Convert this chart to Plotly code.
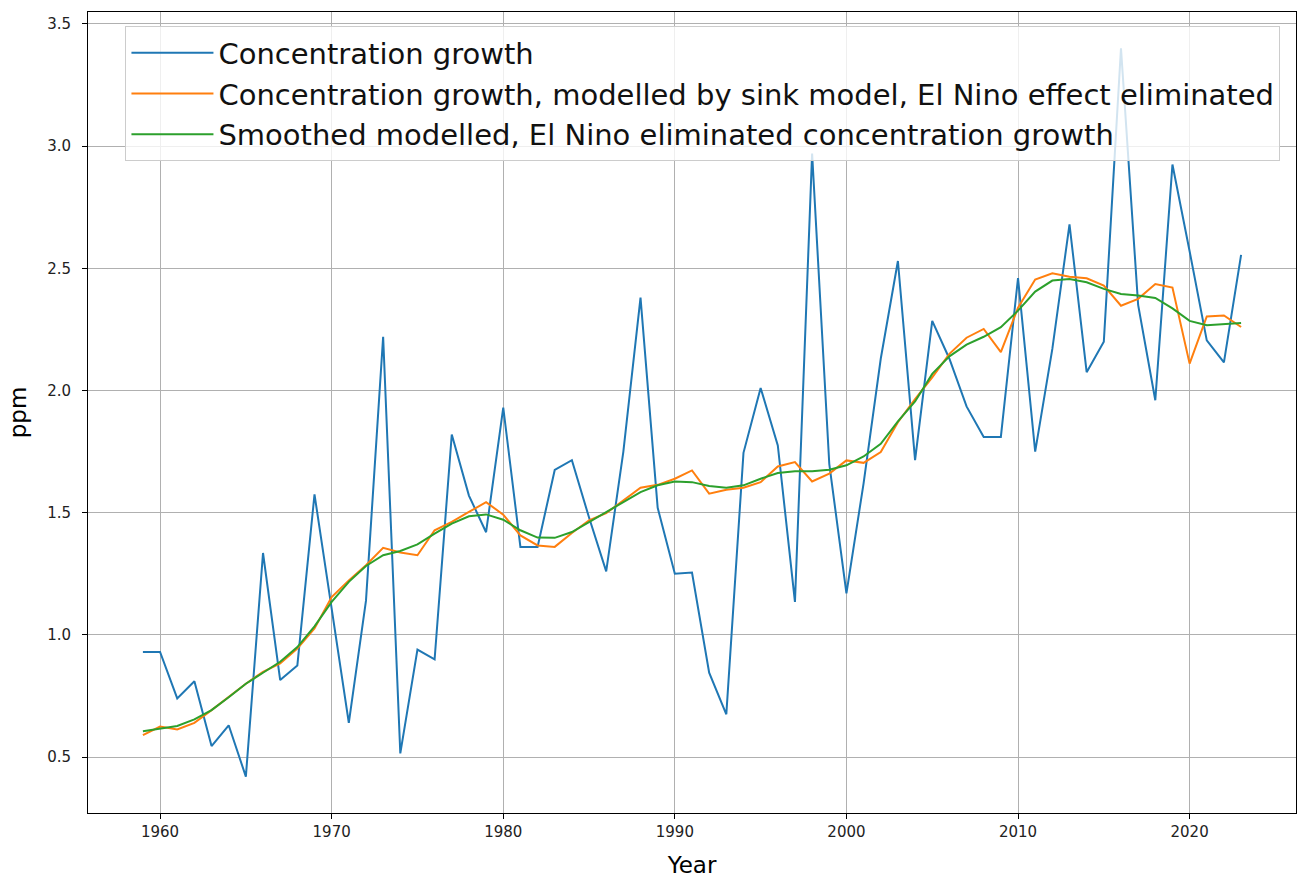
import plotly.graph_objects as go

years = list(range(1959, 2024))

growth = [0.93, 0.93, 0.74, 0.81, 0.545, 0.63, 0.42, 1.335, 0.815, 0.875,
          1.575, 1.10, 0.64, 1.14, 2.22, 0.515, 0.94, 0.90, 1.82, 1.57,
          1.42, 1.93, 1.36, 1.36, 1.675, 1.715, 1.48, 1.26, 1.75, 2.38,
          1.52, 1.25, 1.255, 0.845, 0.675, 1.745, 2.01, 1.775, 1.135, 2.97,
          1.70, 1.17, 1.62, 2.13, 2.53, 1.715, 2.285, 2.13, 1.935, 1.81,
          1.81, 2.46, 1.75, 2.17, 2.68, 2.075, 2.20, 3.40, 2.35, 1.96,
          2.925, 2.57, 2.205, 2.115, 2.555]

modelled = [0.59, 0.625, 0.613, 0.64, 0.692, 0.746, 0.80, 0.849, 0.883, 0.944,
            1.026, 1.155, 1.223, 1.285, 1.356, 1.337, 1.326, 1.428, 1.462, 1.503,
            1.543, 1.492, 1.407, 1.366, 1.36, 1.417, 1.469, 1.498, 1.55, 1.602,
            1.614, 1.639, 1.673, 1.578, 1.594, 1.602, 1.625, 1.689, 1.707, 1.628,
            1.66, 1.714, 1.704, 1.748, 1.87, 1.965, 2.054, 2.15, 2.216, 2.252,
            2.157, 2.339, 2.454, 2.48, 2.466, 2.459, 2.429, 2.347, 2.375, 2.436,
            2.421, 2.11, 2.303, 2.307, 2.26]

smoothed = [0.606, 0.617, 0.627, 0.654, 0.692, 0.745, 0.80, 0.845, 0.89, 0.95,
            1.035, 1.135, 1.217, 1.282, 1.326, 1.343, 1.37, 1.414, 1.455, 1.485,
            1.493, 1.471, 1.428, 1.398, 1.397, 1.421, 1.462, 1.503, 1.543, 1.584,
            1.612, 1.628, 1.625, 1.609, 1.602, 1.612, 1.639, 1.662, 1.67, 1.67,
            1.676, 1.694, 1.73, 1.782, 1.874, 1.955, 2.068, 2.14, 2.188, 2.22,
            2.259, 2.327, 2.405, 2.45, 2.456, 2.443, 2.416, 2.395, 2.389, 2.379,
            2.336, 2.285, 2.267, 2.272, 2.276]

names = ["Concentration growth",
         "Concentration growth, modelled by sink model, El Nino effect eliminated",
         "Smoothed modelled, El Nino eliminated concentration growth"]
colors = ["#1f77b4", "#ff7f0e", "#2ca02c"]

x_ticks = [1960, 1970, 1980, 1990, 2000, 2010, 2020]
y_ticks = [0.5, 1.0, 1.5, 2.0, 2.5, 3.0, 3.5]
y_tick_labels = ["0.5", "1.0", "1.5", "2.0", "2.5", "3.0", "3.5"]

FONT = "DejaVu Sans"

fig = go.Figure()
for series, name, color in zip([growth, modelled, smoothed], names, colors):
    fig.add_trace(go.Scatter(x=years, y=series, mode="lines", name=name,
                             line=dict(color=color, width=2)))

# matplotlib-like 5% margins
xspan = years[-1] - years[0]
allv = growth + modelled + smoothed
ymin, ymax = min(allv), max(allv)
yspan = ymax - ymin

axis_common = dict(showline=True, linecolor="black", linewidth=1, mirror=True,
                   ticks="outside", ticklen=5, tickcolor="black", tickwidth=1,
                   showgrid=True, gridcolor="#b0b0b0", gridwidth=1,
                   zeroline=False, tickfont=dict(family=FONT, size=15, color="#222"))

fig.update_layout(
    width=1298, height=879,
    margin=dict(l=88, r=2, t=12, b=66),
    paper_bgcolor="white", plot_bgcolor="white",
    font=dict(family=FONT, color="black"),
    showlegend=True,
    legend=dict(x=0.031, y=0.982, xanchor="left", yanchor="top",
                bgcolor="rgba(255,255,255,0.8)", bordercolor="#cccccc", borderwidth=1,
                font=dict(family=FONT, size=29, color="#111"),
                itemwidth=82, tracegroupgap=0),
    xaxis=dict(range=[years[0] - 0.05 * xspan, years[-1] + 0.05 * xspan],
               tickvals=x_ticks,
               title=dict(text="Year", font=dict(family=FONT, size=23), standoff=16),
               **axis_common),
    yaxis=dict(range=[ymin - 0.05 * yspan, ymax + 0.05 * yspan],
               tickvals=y_ticks, ticktext=y_tick_labels, ticklabelstandoff=8,
               title=dict(text="ppm", font=dict(family=FONT, size=23), standoff=14),
               **axis_common),
)

fig.write_html("out.html")
